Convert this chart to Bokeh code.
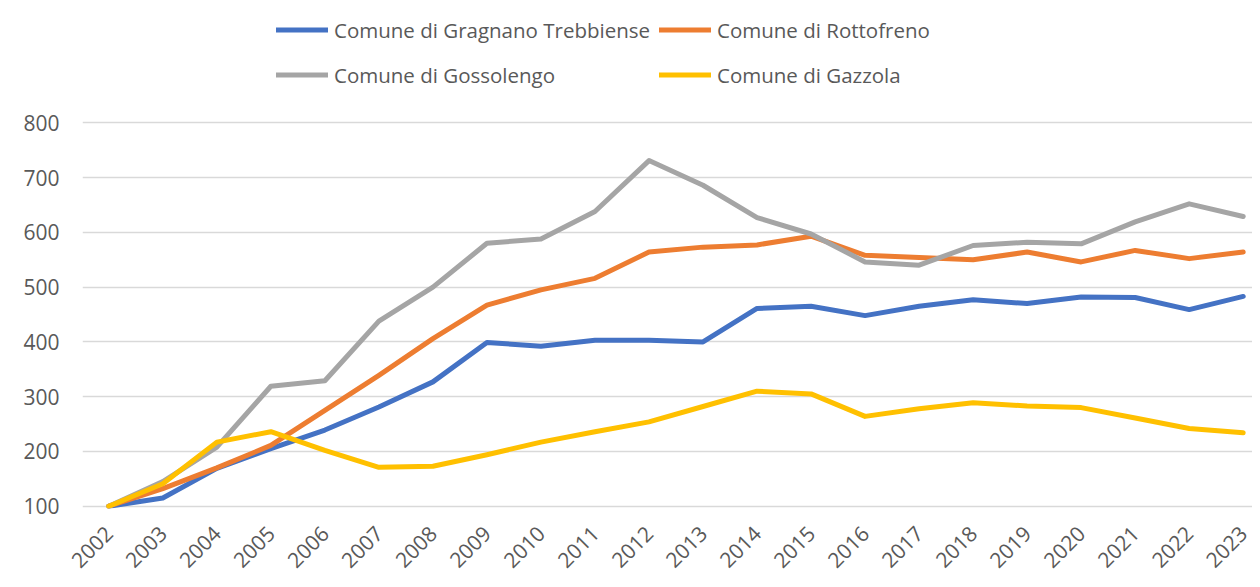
import math
from bokeh.plotting import figure
from bokeh.models import Range1d, Legend, LegendItem, FixedTicker
from bokeh.embed import file_html
from bokeh.resources import INLINE

years = list(range(2002, 2024))
year_labels = [str(y) for y in years]
y_ticks = [100, 200, 300, 400, 500, 600, 700, 800]

gragnano = [100, 115, 169, 205, 239, 281, 327, 399, 392, 403, 403, 400,
            461, 465, 448, 465, 477, 470, 482, 481, 459, 483]
rottofreno = [100, 132, 170, 211, 275, 339, 406, 467, 495, 516, 564, 573,
              577, 593, 558, 554, 550, 564, 546, 567, 552, 564]
gossolengo = [100, 145, 208, 319, 329, 438, 500, 580, 588, 638, 731, 686,
              627, 597, 546, 540, 576, 582, 579, 619, 652, 629]
gazzola = [100, 141, 217, 236, 202, 171, 173, 194, 217, 236, 254, 282,
           310, 305, 264, 278, 289, 283, 280, 261, 242, 234]

names = ["Comune di Gragnano Trebbiense", "Comune di Rottofreno",
         "Comune di Gossolengo", "Comune di Gazzola"]
series = [gragnano, rottofreno, gossolengo, gazzola]
colors = ["#4472C4", "#ED7D31", "#A5A5A5", "#FFC000"]

FONT = "Open Sans"
TXT = "#595959"

# frame spans the full height above the x labels; legend sits inside it
p = figure(width=1252, height=579, output_backend="svg", toolbar_location=None,
           x_range=Range1d(2001.513, 2023.172), y_range=Range1d(95.8, 1023.3),
           min_border_left=82, min_border_right=0, min_border_top=0,
           min_border_bottom=71)
p.outline_line_color = None
p.background_fill_color = "white"
p.border_fill_color = "white"

p.xgrid.grid_line_color = None
p.ygrid.grid_line_color = "#D9D9D9"
p.ygrid.grid_line_width = 1.5

p.xaxis.ticker = FixedTicker(ticks=years)
p.xaxis.major_label_overrides = {y: s for y, s in zip(years, year_labels)}
p.xaxis.major_label_orientation = math.pi / 4
p.yaxis.ticker = FixedTicker(ticks=y_ticks)

for ax in (p.xaxis[0], p.yaxis[0]):
    ax.axis_line_color = None
    ax.major_tick_line_color = None
    ax.minor_tick_line_color = None
    ax.major_tick_out = 0
    ax.major_tick_in = 0
    ax.major_label_text_font = FONT
    ax.major_label_text_font_size = "21px"
    ax.major_label_text_color = TXT
p.yaxis.major_label_standoff = 23
p.xaxis.major_label_standoff = 21

items = []
for name, vals, col in zip(names, series, colors):
    r = p.line(years, vals, line_color=col, line_width=5,
               line_cap="round", line_join="round")
    items.append(LegendItem(label=name, renderers=[r]))

legend = Legend(items=items, location=(194, 411), orientation="horizontal",
                ncols=2, glyph_width=52, glyph_height=45, label_height=45,
                label_width=325, label_standoff=6, spacing=0, padding=0,
                margin=0, label_text_font=FONT, label_text_font_size="20.5px",
                label_text_color=TXT, background_fill_alpha=0,
                border_line_alpha=0)
p.add_layout(legend, "center")

open("out.html", "w").write(file_html(p, INLINE))
